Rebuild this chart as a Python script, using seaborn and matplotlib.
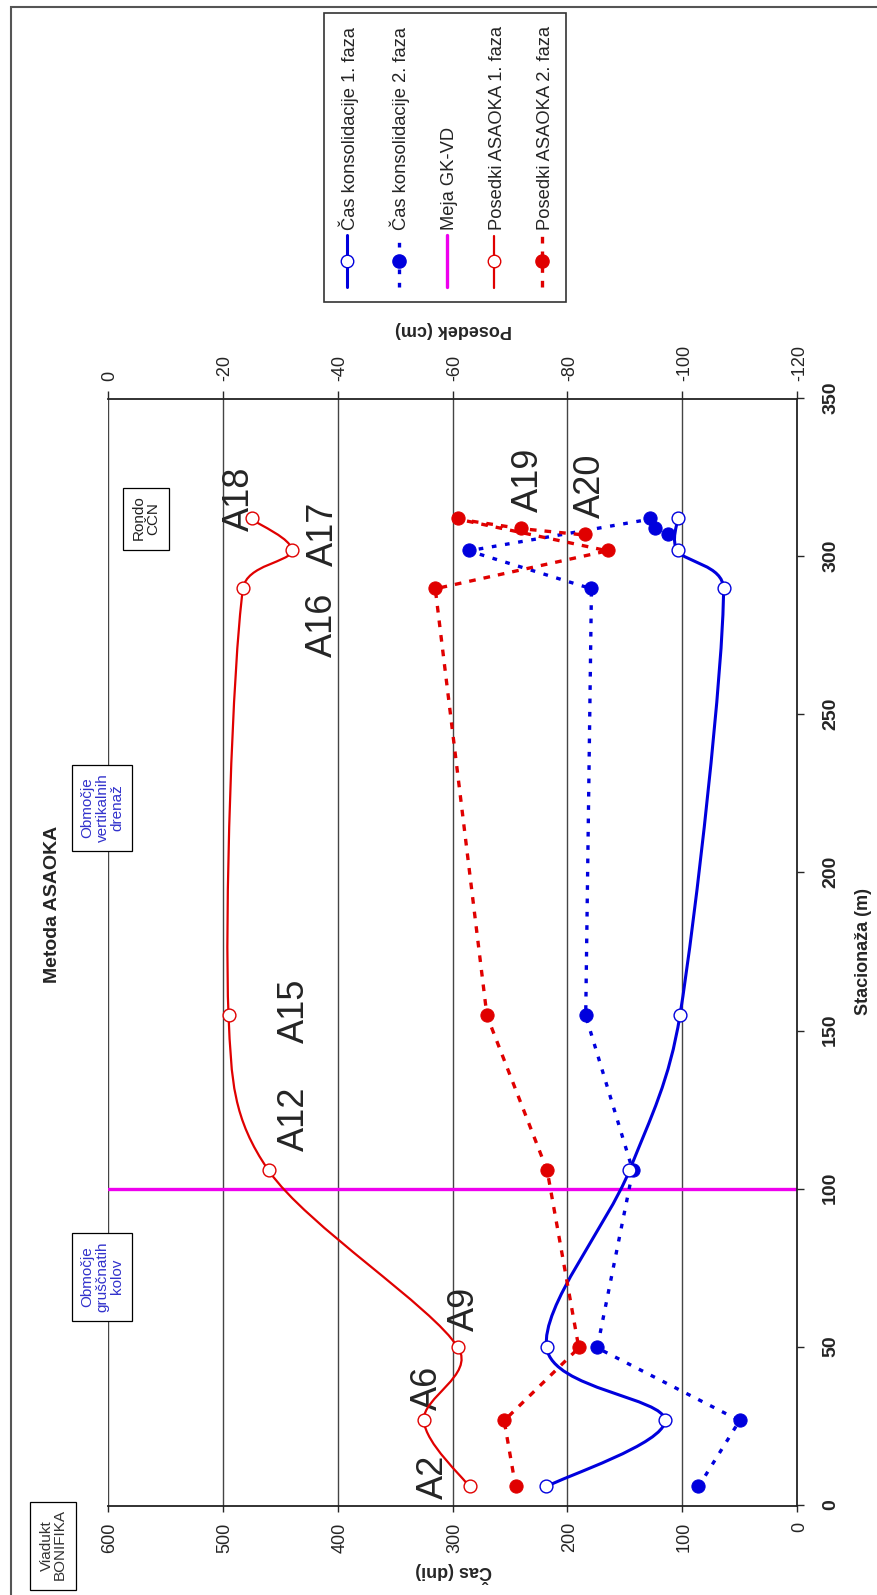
import io
import numpy as np
import matplotlib
matplotlib.use("Agg")
import matplotlib.pyplot as plt
import seaborn as sns
from matplotlib.path import Path
from matplotlib.patches import PathPatch, Rectangle
from matplotlib.lines import Line2D

# --- podatki (odčitano z grafa) ---
postaje_1 = [6, 27, 50, 106, 155, 290, 302, 312]
cas_1 = [219, 115, 218, 146, 102, 64, 104, 104]
posedek_1 = [-63, -55, -61, -28, -21, -23.5, -32, -25]

postaje_2 = [6, 27, 50, 106, 155, 290, 302, 312, 309, 307]
cas_2 = [86, 50, 174, 143, 184, 179, 286, 128, 124, 112]
posedek_2 = [-71, -69, -82, -76.5, -66, -57, -87, -61, -72, -83]

meja_gk_vd = 100

oznake = ["A2", "A6", "A9", "A12", "A15", "A16", "A17", "A18", "A19", "A20"]
oznake_x = [2, 30, 55, 112, 146, 268, 297, 308, 314, 312]
oznake_y = [309, 314, 282, 430, 430, 406, 405, 478, 226, 172]

cas_ticks = [0, 100, 200, 300, 400, 500, 600]
posedek_ticks = [-120, -100, -80, -60, -40, -20, 0]
postaje_ticks = [0, 50, 100, 150, 200, 250, 300, 350]

legenda = ["Čas konsolidacije 1. faza", "Čas konsolidacije 2. faza", "Meja GK-VD",
           "Posedki ASAOKA 1. faza", "Posedki ASAOKA 2. faza"]

MODRA = "#0000dd"
RDECA = "#e00000"
MAGENTA = "#ee00ee"
CRTKE_M = (0, (1.4, 2.6))
CRTKE_R = (0, (2.0, 2.4))

sns.set_style("white")
plt.rcParams["font.family"] = ["Liberation Sans", "DejaVu Sans"]
plt.rcParams["axes.unicode_minus"] = False
OZKA = ["Liberation Sans Narrow", "Liberation Sans"]

W, H = 1595, 877
fig = plt.figure(figsize=(W / 100, H / 100), dpi=100)
ax = fig.add_axes([89 / W, 1 - 797 / H, (1196 - 89) / W, (797 - 108) / H])
ax2 = ax.twinx()

ax.set_xlim(0, 350)
ax.set_ylim(0, 600)
ax2.set_ylim(-120, 0)
for a in (ax, ax2):
    a.set_autoscale_on(False)
    a.set_facecolor("none")

ax.set_xticks(postaje_ticks)
ax.set_yticks(cas_ticks)
ax2.set_yticks(posedek_ticks)
ax2.set_yticklabels([str(t) for t in posedek_ticks])

for y in cas_ticks[1:]:
    ax.axhline(y, color="#444444", lw=1, zorder=0)

for s in ("top", "right"):
    ax.spines[s].set_visible(False)
for s in ("top", "left", "bottom"):
    ax2.spines[s].set_visible(False)
for s in ("left", "bottom"):
    ax.spines[s].set_color("#222222")
    ax.spines[s].set_linewidth(1.3)
ax2.spines["right"].set_color("#222222")
ax2.spines["right"].set_linewidth(1.3)

ax.tick_params(axis="y", direction="out", length=5, width=1, pad=8, labelsize=13, left=True)
ax.tick_params(axis="x", direction="out", length=5, width=1, pad=13, bottom=True)
ax2.tick_params(axis="y", direction="out", length=5, width=1, pad=7, labelsize=13, right=True)
for t in ax.get_xticklabels():
    t.set_family(OZKA)
    t.set_fontsize(14)
    t.set_fontweight("bold")

ax.set_ylabel("Čas (dni)", fontsize=13, fontweight="bold", labelpad=6)
ax.set_xlabel("Stacionaža (m)", fontsize=13, fontweight="bold", labelpad=11, family=OZKA)
ax2.set_ylabel("Posedek (cm)", fontsize=13, fontweight="bold", labelpad=5, rotation=90)

# meja GK-VD
ax.axvline(meja_gk_vd, color=MAGENTA, lw=2.4, zorder=2)


def gladka_pot(os, xs, ys):
    """Gladka črta skozi točke (Bezier, kot v Excelu), tangente omejene na dolžino odseka."""
    pts = os.transData.transform(np.column_stack([xs, ys]))
    n = len(pts)
    verts = [pts[0]]
    codes = [Path.MOVETO]

    def omeji(v, d):
        m = np.hypot(*v)
        return v if m <= d else v * d / m

    for i in range(n - 1):
        p0 = pts[i - 1] if i > 0 else pts[i]
        p1, p2 = pts[i], pts[i + 1]
        p3 = pts[i + 2] if i + 2 < n else pts[i + 1]
        d = np.hypot(*(p2 - p1)) * 0.4
        verts += [p1 + omeji((p2 - p0) / 6, d), p2 - omeji((p3 - p1) / 6, d), p2]
        codes += [Path.CURVE4] * 3
    return Path(os.transData.inverted().transform(np.array(verts)), codes)


# 1. faza - gladke polne črte
ax.add_patch(PathPatch(gladka_pot(ax, postaje_1, cas_1), fc="none", ec=MODRA, lw=2.2, zorder=3))
ax2.add_patch(PathPatch(gladka_pot(ax2, postaje_1, posedek_1), fc="none", ec=RDECA, lw=1.6, zorder=3))
sns.scatterplot(x=postaje_1, y=cas_1, ax=ax, s=85, color="white", edgecolor=MODRA,
                linewidth=1.0, zorder=5, legend=False)
sns.scatterplot(x=postaje_1, y=posedek_1, ax=ax2, s=85, color="white", edgecolor=RDECA,
                linewidth=1.0, zorder=5, legend=False)

# 2. faza - pikčaste črte
sns.lineplot(x=postaje_2, y=cas_2, ax=ax, sort=False, color=MODRA, lw=2.4,
             linestyle=CRTKE_M, marker="o", markersize=9.5,
             markeredgecolor=MODRA, markerfacecolor=MODRA, zorder=4)
sns.lineplot(x=postaje_2, y=posedek_2, ax=ax2, sort=False, color=RDECA, lw=2.4,
             linestyle=CRTKE_R, marker="o", markersize=9.5,
             markeredgecolor=RDECA, markerfacecolor=RDECA, zorder=4)

for lab, x, y in zip(oznake, oznake_x, oznake_y):
    ax.text(x, y, lab, fontsize=26, ha="left", va="baseline", zorder=6)

# okvirji z opombami
okvir = dict(boxstyle="square,pad=0.55", fc="white", ec="black", lw=0.9)
fig.text(48 / W, 1 - 53 / H, "Viadukt\nBONIFIKA", fontsize=11, color="#333333",
         ha="center", va="center", ma="center", bbox=okvir, linespacing=1.05)
fig.text(317 / W, 1 - 102 / H, "Območje\ngruščnatih\nkolov", fontsize=11, color="#3333cc",
         ha="center", va="center", ma="center", bbox=okvir, linespacing=1.05)
fig.text(786 / W, 1 - 102 / H, "Območje\nvertikalnih\ndrenaž", fontsize=11, color="#3333cc",
         ha="center", va="center", ma="center", bbox=okvir, linespacing=1.05)
fig.text(1075 / W, 1 - 146 / H, "Rondo\nCČN", fontsize=11, color="#222222",
         ha="center", va="center", ma="center", bbox=okvir, linespacing=1.05)
fig.text(690 / W, 1 - 52 / H, "Metoda ASAOKA", fontsize=14, fontweight="bold",
         ha="center", va="center")

# legenda
rocice = [
    Line2D([], [], color=MODRA, lw=2.2, marker="o", ms=9, mfc="white", mec=MODRA),
    Line2D([], [], color=MODRA, lw=2.4, ls=CRTKE_M, marker="o", ms=9.5, mfc=MODRA, mec=MODRA),
    Line2D([], [], color=MAGENTA, lw=2.4),
    Line2D([], [], color=RDECA, lw=1.6, marker="o", ms=9, mfc="white", mec=RDECA),
    Line2D([], [], color=RDECA, lw=2.4, ls=CRTKE_R, marker="o", ms=9.5, mfc=RDECA, mec=RDECA),
]
leg = fig.legend(rocice, legenda, loc="center left", bbox_to_anchor=(1293 / W, 1 - 445 / H),
                 fontsize=13.2, frameon=True, fancybox=False, labelspacing=1.68,
                 handlelength=2.84, handletextpad=0.27, borderpad=0.75, borderaxespad=0)
leg.get_frame().set_edgecolor("black")
leg.get_frame().set_linewidth(1.2)

# zunanji okvir
fig.add_artist(Rectangle((-0.01, -0.01), 1588 / W + 0.01, 1 - 11 / H + 0.01,
                         transform=fig.transFigure, fc="none", ec="#555555", lw=1.5))

buf = io.BytesIO()
fig.savefig(buf, format="png", dpi=100)
buf.seek(0)
slika = plt.imread(buf)
plt.imsave("out.png", np.ascontiguousarray(np.rot90(slika)))
